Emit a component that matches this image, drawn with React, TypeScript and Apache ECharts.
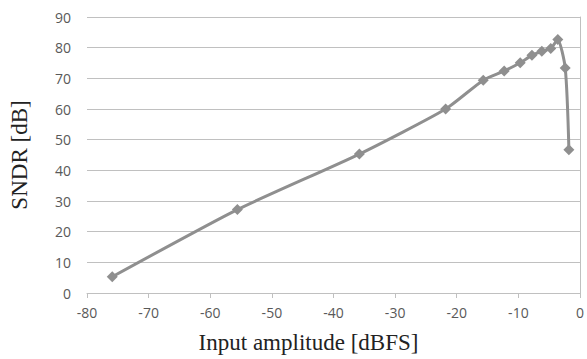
import React, { useEffect, useRef } from "react";
import * as echarts from "echarts";

const inputAmplitude = [-75.9, -55.6, -35.8, -21.8, -15.7, -12.3, -9.7, -7.8, -6.2, -4.75, -3.6, -2.4, -1.8];
const sndr = [5.3, 27.2, 45.3, 60.0, 69.4, 72.4, 75.1, 77.5, 78.8, 79.7, 82.7, 73.4, 46.7];
const xTicks = [-80, -70, -60, -50, -40, -30, -20, -10, 0];
const yTicks = [0, 10, 20, 30, 40, 50, 60, 70, 80, 90];

export default function App() {
  const ref = useRef<HTMLDivElement>(null);
  useEffect(() => {
    const chart = echarts.init(ref.current!, null, { renderer: "svg" });
    const gridColor = "#c0c0c0";
    chart.setOption({
      animation: false,
      backgroundColor: "#ffffff",
      grid: { left: 81, right: 1, top: 17, bottom: 65, containLabel: false },
      xAxis: {
        type: "value",
        min: xTicks[0],
        max: xTicks[xTicks.length - 1],
        interval: 10,
        name: "Input amplitude [dBFS]",
        nameLocation: "middle",
        nameGap: 38,
        nameTextStyle: {
          fontFamily: "Liberation Serif",
          fontSize: 23,
          color: "#222222",
          padding: [0, 50, 0, 0],
        },
        axisLine: { show: true, onZero: false, lineStyle: { color: gridColor, width: 1 } },
        axisTick: { show: true, inside: false, length: 5, lineStyle: { color: gridColor } },
        axisLabel: { fontFamily: "Open Sans", fontSize: 14, color: "#595959", margin: 12 },
        splitLine: { show: false },
      },
      yAxis: [
        {
          type: "value",
          min: yTicks[0],
          max: yTicks[yTicks.length - 1],
          interval: 10,
          name: "SNDR [dB]",
          nameLocation: "middle",
          nameGap: 56,
          nameTextStyle: { fontFamily: "Liberation Serif", fontSize: 23, color: "#222222" },
          axisLine: { show: false },
          axisTick: { show: false },
          axisLabel: { fontFamily: "Open Sans", fontSize: 14, color: "#595959", margin: 16 },
          splitLine: { show: true, lineStyle: { color: gridColor, width: 1 } },
        },
        {
          type: "value",
          position: "right",
          min: yTicks[0],
          max: yTicks[yTicks.length - 1],
          interval: 10,
          axisLine: { show: true, lineStyle: { color: gridColor, width: 1 } },
          axisTick: { show: false },
          axisLabel: { show: false },
          splitLine: { show: false },
        },
      ],
      series: [
        {
          type: "line",
          data: inputAmplitude.map((x, i) => [x, sndr[i]]),
          smooth: 0.2,
          symbol: "diamond",
          symbolSize: 11,
          lineStyle: { color: "#8f8f8f", width: 3 },
          itemStyle: { color: "#8f8f8f" },
        },
      ],
    });
    return () => chart.dispose();
  }, []);
  return <div ref={ref} style={{ width: 587, height: 359, position: "absolute", left: 0, top: 0 }} />;
}
